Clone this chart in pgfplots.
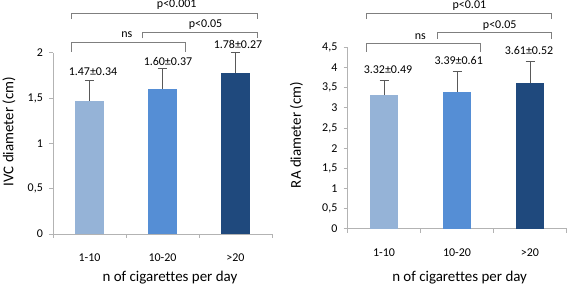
\documentclass[border=0pt]{standalone}
\usepackage{fontspec}
\setmainfont{Carlito}[Ligatures=NoCommon]
\usepackage{pgfplots}
\pgfplotsset{compat=1.18}
\definecolor{cA}{HTML}{95B3D7}
\definecolor{cB}{HTML}{558ED5}
\definecolor{cC}{HTML}{1F497D}
\definecolor{axisgray}{HTML}{B3B3B3}
\definecolor{errgray}{HTML}{595959}
\definecolor{brgray}{HTML}{7F7F7F}
\tikzset{
  vlab/.style={font=\fontsize{12}{14}\selectfont, inner sep=0pt},
  blab/.style={font=\fontsize{12}{14}\selectfont, inner sep=0pt},
  biglab/.style={font=\fontsize{15}{18}\selectfont},
}
\pgfplotsset{
  every tick label/.append style={font=\fontsize{12}{14}\selectfont},
  mybar/.style={
    scale only axis, width=219bp, height=181.3bp, anchor=south west,
    ybar, bar width=28.3bp, /pgf/bar shift=0pt,
    xmin=-0.5, xmax=2.5, ymin=0,
    axis x line*=bottom, axis y line*=left,
    axis line style={draw=axisgray, line width=0.8bp, -},
    xtick={-0.5,0.5,1.5,2.5}, xticklabels={,,,},
    extra x ticks={0,1,2},
    extra x tick labels={1-10,10-20,>20},
    extra x tick style={major tick length=0pt},
    xticklabel style={anchor=center, yshift=-24bp},
    yticklabel style={xshift=-2bp},
    major tick length=4bp,
    tick style={draw=axisgray, line width=0.8bp},
    tick align=outside,
    /pgf/number format/assume math mode=true,
    /pgf/number format/use comma,
    clip=false,
    error bars/y dir=plus, error bars/y explicit,
    error bars/error bar style={draw=errgray, line width=1bp},
    error bars/error mark options={draw=errgray, line width=1bp, mark size=4.5bp, rotate=90},
    xlabel={n of cigarettes per day},
  },
}
\begin{document}
\fontsize{12}{14}\selectfont
\begin{tikzpicture}
\path[use as bounding box] (0,0) rectangle (567bp,288bp);
% ---------------- left panel ----------------
\begin{axis}[mybar, at={(53bp,54bp)}, ymax=2, ytick={0,0.5,1,1.5,2},
  ylabel={IVC diameter (cm)},
  every axis y label/.style={at={(axis description cs:-0.201,0.564)}, rotate=90, anchor=center, biglab},
  every axis x label/.style={at={(axis description cs:0.534,-0.243)}, anchor=center, biglab},
]
\addplot[fill=cA, draw=none] coordinates {(0,1.47) +- (0,0.22)};
\addplot[fill=cB, draw=none] coordinates {(1,1.60) +- (0,0.23)};
\addplot[fill=cC, draw=none] coordinates {(2,1.78) +- (0,0.22)};
\node[vlab] at (axis cs:0.048,1.79) {1.47±0.34};
\node[vlab] at (axis cs:1.075,1.908) {1.60±0.37};
\node[vlab] at (axis cs:2.034,2.092) {1.78±0.27};
\draw[brgray, line width=1bp] (axis cs:-0.253,2.371) |- (axis cs:2.295,2.434) -- (axis cs:2.295,2.371);
\draw[brgray, line width=1bp] (axis cs:-0.253,2.011) |- (axis cs:1.312,2.110) -- (axis cs:1.312,2.011);
\draw[brgray, line width=1bp] (axis cs:0.729,2.158) |- (axis cs:2.295,2.224) -- (axis cs:2.295,2.158);
\node[blab] at (axis cs:1.195,2.526) {p<0.001};
\node[blab] at (axis cs:1.59,2.313) {p<0.05};
\node[blab] at (axis cs:0.51,2.195) {ns};
\end{axis}
% ---------------- right panel ----------------
\begin{axis}[mybar, at={(347.5bp,59.3bp)}, ymax=4.5, ytick={0,0.5,...,4.5},
  ylabel={RA diameter (cm)},
  every axis y label/.style={at={(axis description cs:-0.233,0.517)}, rotate=90, anchor=center, biglab},
  every axis x label/.style={at={(axis description cs:0.512,-0.272)}, anchor=center, biglab},
]
\addplot[fill=cA, draw=none] coordinates {(0,3.32) +- (0,0.36)};
\addplot[fill=cB, draw=none] coordinates {(1,3.39) +- (0,0.52)};
\addplot[fill=cC, draw=none] coordinates {(2,3.61) +- (0,0.53)};
\node[vlab] at (axis cs:0.055,3.94) {3.32±0.49};
\node[vlab] at (axis cs:1.023,4.17) {3.39±0.61};
\node[vlab] at (axis cs:1.986,4.43) {3.61±0.52};
\draw[brgray, line width=1bp] (axis cs:-0.242,5.20) |- (axis cs:2.292,5.345) -- (axis cs:2.292,5.20);
\draw[brgray, line width=1bp] (axis cs:-0.242,4.39) |- (axis cs:1.319,4.60) -- (axis cs:1.319,4.39);
\draw[brgray, line width=1bp] (axis cs:0.726,4.72) |- (axis cs:2.292,4.873) -- (axis cs:2.292,4.72);
\node[blab] at (axis cs:1.17,5.526) {p<0.01};
\node[blab] at (axis cs:1.585,5.05) {p<0.05};
\node[blab] at (axis cs:0.497,4.76) {ns};
\end{axis}
\end{tikzpicture}
\end{document}
